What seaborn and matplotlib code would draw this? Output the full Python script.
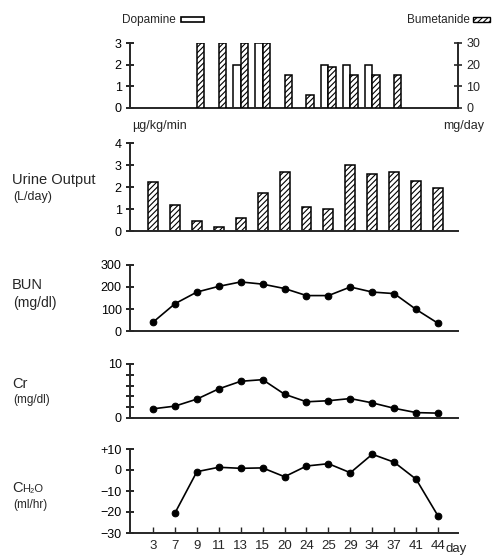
import numpy as np
import pandas as pd
import matplotlib
matplotlib.use("Agg")
import matplotlib.pyplot as plt
from matplotlib.patches import Rectangle
import seaborn as sns

nan = np.nan

DAYS = ["3", "7", "9", "11", "13", "15", "20", "24", "25", "29", "34", "37", "41", "44"]
DOPAMINE = [nan, nan, nan, nan, 2, 3, nan, nan, 2, 2, 2, nan, nan, nan]      # ug/kg/min
BUMETANIDE = [nan, nan, 30, 30, 30, 30, 15, 6, 19, 15, 15, 15, nan, nan]   # mg/day
URINE = [2.23, 1.2, 0.46, 0.18, 0.6, 1.72, 2.69, 1.07, 0.98, 3.0, 2.6, 2.67, 2.29, 1.95]
BUN = [40, 124, 177, 203, 223, 213, 193, 161, 161, 200, 177, 170, 98, 35]
CR = [1.7, 2.2, 3.5, 5.4, 6.8, 7.1, 4.4, 3.0, 3.2, 3.6, 2.8, 1.8, 1.0, 0.9]
CH2O = [nan, -20.5, -0.8, 1.3, 0.8, 1.0, -3.2, 1.9, 3.0, -1.3, 7.5, 3.7, -4.4, -21.9]

W, H = 493, 556
HATCH = "//////"

sns.set_style("ticks")
plt.rcParams["font.family"] = ["Liberation Sans", "DejaVu Sans"]
plt.rcParams["hatch.linewidth"] = 0.8
plt.rcParams["axes.linewidth"] = 1.2


def px(x, y):
    return x / W, 1 - y / H


def add_axes(fig, top, bottom, left=130, right=458):
    return fig.add_axes([left / W, 1 - bottom / H, (right - left) / W, (bottom - top) / H])


def style_axis(ax, ymin, ymax, yticks, ylabels=None, xlabels=False):
    ax.set_xlim(-1.05, 13.91)
    ax.set_ylim(ymin, ymax)
    ax.set_yticks(yticks)
    if ylabels is not None:
        ax.set_yticklabels(ylabels)
    for s in ["top", "right"]:
        ax.spines[s].set_visible(False)
    ax.spines["left"].set_linewidth(1.4)
    ax.spines["bottom"].set_linewidth(1.4)
    ax.tick_params(axis="y", direction="inout", length=6, width=1.2, labelsize=9, pad=3, colors="black")
    ax.set_xticks(np.arange(len(DAYS)))
    if xlabels:
        ax.set_xticklabels(DAYS)
        ax.tick_params(axis="x", direction="in", length=4, width=1, labelsize=9.5, pad=5)
    else:
        ax.tick_params(axis="x", length=0, labelbottom=False)
    ax.set_xlabel("")
    ax.set_ylabel("")


fig = plt.figure(figsize=(W / 100, H / 100), dpi=100)
pos = np.arange(len(DAYS))

# --- drugs panel (dopamine left, bumetanide right) ---
drug_df = pd.DataFrame({
    "day": DAYS * 2,
    "drug": ["Dopamine"] * len(DAYS) + ["Bumetanide"] * len(DAYS),
    "dop": DOPAMINE + [nan] * len(DAYS),
    "bum": [nan] * len(DAYS) + BUMETANIDE,
})
ax0 = add_axes(fig, 43, 108)
ax0b = ax0.twinx()
sns.barplot(data=drug_df, x="day", y="dop", hue="drug", order=DAYS,
            hue_order=["Dopamine", "Bumetanide"], dodge=True, width=0.66,
            palette=["white", "white"], edgecolor="black", linewidth=1.1,
            errorbar=None, legend=False, ax=ax0)
sns.barplot(data=drug_df, x="day", y="bum", hue="drug", order=DAYS,
            hue_order=["Dopamine", "Bumetanide"], dodge=True, width=0.66,
            palette=["white", "white"], edgecolor="black", linewidth=1.1,
            errorbar=None, legend=False, ax=ax0b)
for p in ax0b.patches:
    p.set_hatch(HATCH)
style_axis(ax0, 0, 3, [0, 1, 2, 3])
ax0b.set_xlim(-1.05, 13.91)
ax0b.set_ylim(0, 30)
ax0b.set_yticks([0, 10, 20, 30])
ax0b.set_ylabel("")
for s in ["top", "left", "bottom"]:
    ax0b.spines[s].set_visible(False)
ax0b.spines["right"].set_linewidth(1.4)
ax0b.tick_params(axis="y", direction="inout", length=6, width=1.2, labelsize=9, pad=3)

fig.text(*px(122, 20), "Dopamine", fontsize=8.5, va="center")
fig.patches.append(Rectangle(px(181, 22), 23 / W, 5 / H, transform=fig.transFigure,
                             facecolor="white", edgecolor="black", linewidth=1.2))
fig.text(*px(470, 20), "Bumetanide", fontsize=8.5, va="center", ha="right")
fig.patches.append(Rectangle(px(473, 22), 17 / W, 5 / H, transform=fig.transFigure,
                             facecolor="white", edgecolor="black", linewidth=1.0, hatch=HATCH))
fig.text(*px(132, 126), "\u00b5g/kg/min", fontsize=9, va="center")
fig.text(*px(484, 126), "mg/day", fontsize=9, va="center", ha="right")

# --- urine output ---
ax1 = add_axes(fig, 143, 231)
sns.barplot(x=DAYS, y=URINE, order=DAYS, color="white", edgecolor="black",
            linewidth=1.1, width=0.45, errorbar=None, ax=ax1)
for p in ax1.patches:
    p.set_hatch(HATCH)
style_axis(ax1, 0, 4, [0, 1, 2, 3, 4])

# --- line panels ---
line_kw = dict(color="black", marker="o", markersize=4.8, linewidth=1.2,
               markeredgecolor="black")

ax2 = add_axes(fig, 265, 331)
sns.lineplot(x=pos, y=BUN, ax=ax2, **line_kw)
style_axis(ax2, 0, 300, [0, 100, 200, 300])

ax3 = add_axes(fig, 364, 418)
sns.lineplot(x=pos, y=CR, ax=ax3, **line_kw)
style_axis(ax3, 0, 10, [0, 2, 4, 6, 8, 10], ["0", "", "", "", "", "10"])

ax4 = add_axes(fig, 449, 533)
sns.lineplot(x=pos, y=CH2O, ax=ax4, **line_kw)
style_axis(ax4, -30, 10, [-30, -20, -10, 0, 10],
           ["\u221230", "\u221220", "\u221210", "0", "+10"], xlabels=True)
fig.text(*px(446, 549), "day", fontsize=9.5, va="center")

# --- row labels ---
LX = 12
fig.text(*px(LX, 180), "Urine Output", fontsize=10.5, va="center")
fig.text(*px(LX + 1, 197), "(L/day)", fontsize=9, va="center")
fig.text(*px(LX, 285), "BUN", fontsize=10.5, va="center")
fig.text(*px(LX + 1, 303), "(mg/dl)", fontsize=10, va="center")
fig.text(*px(LX, 384), "Cr", fontsize=10.5, va="center")
fig.text(*px(LX + 1, 400), "(mg/dl)", fontsize=8.5, va="center")
fig.text(*px(LX, 488), "C", fontsize=10.5, va="center")
fig.text(*px(LX + 10, 489), "H\u2082O", fontsize=8, va="center")
fig.text(*px(LX + 1, 505), "(ml/hr)", fontsize=8.5, va="center")

fig.savefig("out.png", dpi=100)
